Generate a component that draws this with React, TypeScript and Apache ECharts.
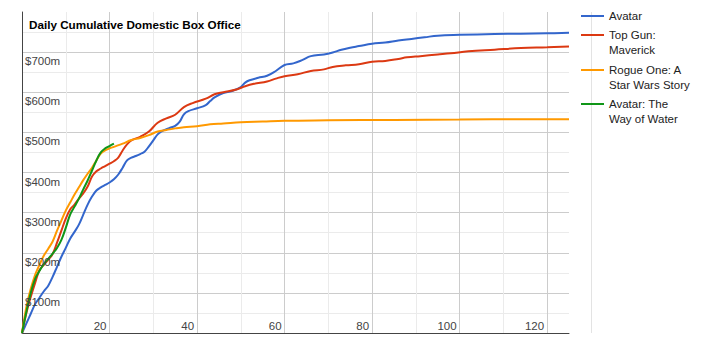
import React, { useEffect, useRef } from "react";
import * as echarts from "echarts";

const TITLE = "Daily Cumulative Domestic Box Office";
const seriesNames = ["Avatar", "Top Gun: Maverick", "Rogue One: A Star Wars Story", "Avatar: The Way of Water"];
const legendLabels = ["Avatar", "Top Gun:\nMaverick", "Rogue One: A\nStar Wars Story", "Avatar: The\nWay of Water"];
const colors = ["#3366cc", "#dc3912", "#ff9900", "#109618"];

// [day, cumulative gross in $m]
const avatar = [
  [0, 0], [1, 24], [2, 48], [3, 72], [4, 88], [5, 104], [6, 118], [7, 140], [8, 165], [9, 190], [10, 212],
  [11, 235], [12, 252], [13, 270], [14, 295], [15, 320], [16, 340], [17, 355], [18, 363], [19, 369], [20, 375],
  [21, 383], [22, 395], [23, 412], [24, 430], [25, 437], [26, 441], [27, 446], [28, 452], [29, 465], [30, 480],
  [31, 495], [32, 503], [33, 508], [34, 512], [35, 516], [36, 526], [37, 545], [38, 553], [40, 560], [42, 568],
  [43, 578], [44, 587], [46, 598], [48, 603], [50, 613], [51, 624], [52, 630], [54, 636], [56, 641], [58, 653],
  [60, 668], [62, 672], [64, 680], [66, 690], [69, 694], [71, 699], [73, 706], [75, 711], [77, 715], [80, 721],
  [83, 724], [86, 729], [89, 733], [92, 737], [95, 741], [100, 743], [108, 745], [114, 746], [120, 747], [125, 748],
];
const topGun = [
  [0, 0], [1, 50], [2, 90], [3, 125], [4, 157], [5, 170], [6, 183], [7, 197], [8, 225], [9, 255], [10, 285],
  [11, 308], [12, 320], [13, 335], [14, 348], [15, 365], [16, 390], [17, 403], [18, 410], [19, 416], [20, 422],
  [21, 428], [22, 437], [23, 455], [24, 470], [25, 480], [27, 489], [29, 502], [31, 524], [33, 535], [35, 544],
  [37, 563], [39, 573], [42, 584], [44, 595], [46, 600], [49, 607], [51, 615], [53, 621], [56, 627], [58, 634],
  [60, 640], [63, 645], [66, 653], [69, 657], [71, 663], [74, 667], [77, 670], [80, 676], [83, 678], [86, 683],
  [88, 687], [91, 690], [95, 694], [98, 697], [102, 702], [108, 706], [114, 710], [120, 712], [125, 714],
];
const rogueOne = [
  [0, 0], [1, 65], [2, 110], [3, 145], [4, 170], [5, 193], [6, 210], [7, 228], [8, 255], [9, 280], [10, 305],
  [11, 325], [12, 345], [13, 363], [14, 381], [15, 397], [16, 412], [17, 430], [18, 447], [19, 455], [20, 460],
  [21, 464], [23, 472], [25, 481], [27, 486], [29, 493], [31, 502], [33, 506], [35, 510], [37, 513], [40, 515],
  [43, 520], [46, 522], [50, 525], [55, 527], [60, 529], [70, 530], [85, 531], [100, 532], [115, 533], [125, 533],
];
const wayOfWater = [
  [0, 0], [1, 53], [2, 100], [3, 135], [4, 155], [5, 172], [6, 185], [7, 198], [8, 212], [9, 232], [10, 262],
  [11, 295], [12, 315], [13, 335], [14, 358], [15, 380], [16, 405], [17, 430], [18, 450], [19, 460], [20, 466],
  [21, 472],
];
const seriesData = [avatar, topGun, rogueOne, wayOfWater];

const FONT = "'Liberation Sans', Arial, sans-serif";

export default function App() {
  const ref = useRef<HTMLDivElement>(null);
  useEffect(() => {
    if (!ref.current) return;
    const chart = echarts.init(ref.current, undefined, { renderer: "svg" });
    const legendTops = [8.5, 12.5, 47.5, 81.5];
    chart.setOption({
      animation: false,
      backgroundColor: "#fff",
      title: {
        text: TITLE,
        left: 29,
        top: 17,
        padding: 0,
        textStyle: { fontSize: 11.7, fontWeight: "bold", color: "#000", fontFamily: FONT, lineHeight: 14 },
      },
      legend: legendLabels.map((label, i) => ({
        data: [seriesNames[i]],
        orient: "vertical",
        left: 581,
        top: legendTops[i],
        padding: 0,
        itemWidth: 23,
        itemHeight: 2,
        icon: "rect",
        selectedMode: false,
        // a leading empty line keeps the icon level with the first line of two-line labels
        formatter: () => (label.includes("\n") ? "\n" + label : label),
        textStyle: {
          fontSize: 11.5,
          lineHeight: 15,
          color: "#222",
          fontFamily: FONT,
        },
      })),
      grid: { left: 22, right: 151, top: 12, bottom: 17, containLabel: false },
      xAxis: {
        type: "value",
        min: 0,
        max: 125,
        interval: 10,
        axisLine: { show: true, onZero: false, lineStyle: { color: "#444", width: 1 } },
        axisTick: { show: false },
        splitLine: { show: true, showMaxLine: false, lineStyle: { color: ["#cccccc", "#ebebeb"], width: 1 } },
        axisLabel: {
          inside: true,
          margin: 7,
          align: "right",
          verticalAlign: "middle",
          padding: [0, 3, 0, 0],
          color: "#444",
          fontSize: 11.5,
          fontFamily: FONT,
          formatter: (v: number) => (v > 0 && v % 20 === 0 && v < 125 ? String(v) : ""),
        },
      },
      yAxis: [
        {
          type: "value",
          min: 0,
          max: 800,
          interval: 50,
          axisLine: { show: true, lineStyle: { color: "#444", width: 1 } },
          axisTick: { show: false },
          axisLabel: { show: false },
          splitLine: { show: true, showMaxLine: false, lineStyle: { color: ["#cccccc", "#ebebeb"], width: 1 } },
        },
        {
          type: "value",
          min: 0,
          max: 800,
          interval: 100,
          position: "left",
          z: 5,
          axisLine: { show: false },
          axisTick: { show: false },
          splitLine: { show: false },
          axisLabel: {
            inside: true,
            margin: 3,
            align: "left",
            verticalAlign: "top",
            lineHeight: 14,
            padding: [2, 0, 0, 0],
            color: "#444",
            fontSize: 11.5,
            fontFamily: FONT,
            formatter: (v: number) => (v > 0 && v < 800 ? `$${v}m` : ""),
          },
        },
      ],
      graphic: [
        {
          type: "line",
          z: -1,
          shape: { x1: 591.5, y1: 12, x2: 591.5, y2: 333 },
          style: { stroke: "#e3e3e3", lineWidth: 1 },
        },
      ],
      series: seriesData.map((d, i) => ({
        name: seriesNames[i],
        type: "line",
        data: d,
        showSymbol: false,
        symbol: "none",
        smooth: 0.4,
        color: colors[i],
        lineStyle: { width: 2, color: colors[i] },
        itemStyle: { color: colors[i] },
      })),
    });
    return () => chart.dispose();
  }, []);
  return <div ref={ref} style={{ position: "fixed", left: 0, top: 0, width: 720, height: 350 }} />;
}
